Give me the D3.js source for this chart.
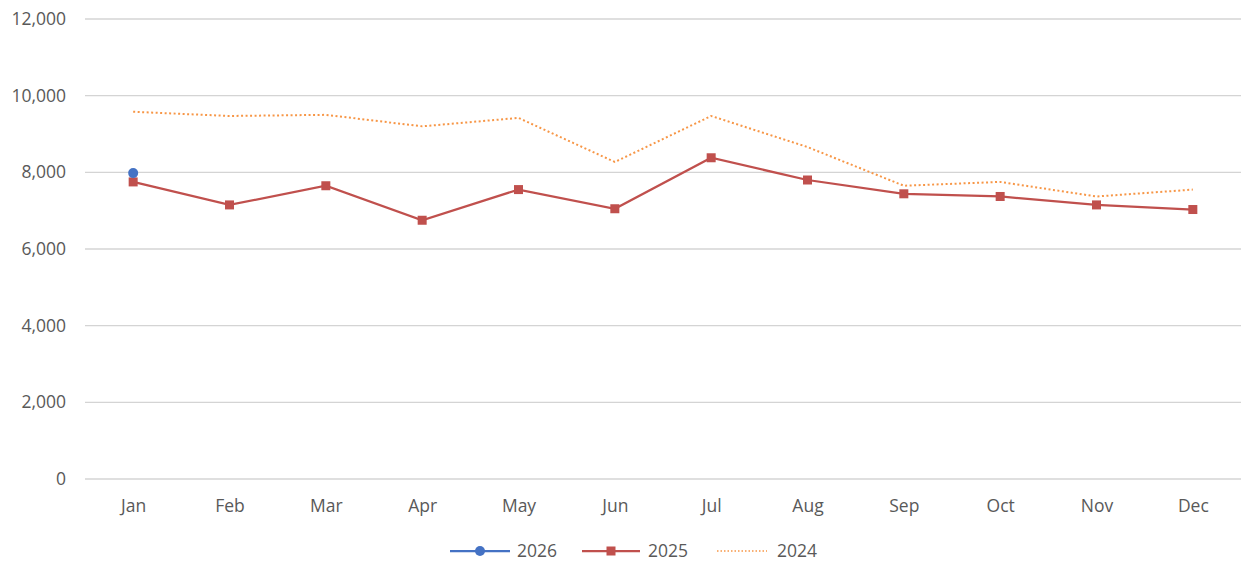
<!DOCTYPE html>
<html>
  <head>
    <meta charset="utf-8">
    <script src="https://d3js.org/d3.v7.min.js"></script>
    <style>
      body { margin: 0; background: #fff; }
      text { font-family: "Open Sans", sans-serif; fill: #595959; }
    </style>
  </head>
<body>
  <script type="text/javascript">
    "use strict";
    // chart data
    var months = ["Jan", "Feb", "Mar", "Apr", "May", "Jun",
                  "Jul", "Aug", "Sep", "Oct", "Nov", "Dec"];
    var values2026 = [7980];
    var values2025 = [7750, 7150, 7650, 6750, 7550, 7050,
                      8380, 7800, 7440, 7370, 7150, 7030];
    var values2024 = [9580, 9470, 9500, 9200, 9420, 8270,
                      9470, 8660, 7650, 7750, 7370, 7550];
    var yTicks = [0, 2000, 4000, 6000, 8000, 10000, 12000];

    function draw() {
      var width = 1260, height = 578,
          plotLeft = 85, plotRight = 1241, plotTop = 19, plotBottom = 479;

      var svg = d3.select("body").append("svg")
          .attr("width", width)
          .attr("height", height);

      var x = d3.scalePoint().domain(months).range([plotLeft, plotRight]).padding(0.5);
      var y = d3.scaleLinear().domain([0, 12000]).range([plotBottom, plotTop]);

      // gridlines
      svg.append("g").selectAll("line")
          .data(yTicks).enter().append("line")
          .attr("x1", plotLeft).attr("x2", plotRight)
          .attr("y1", d => y(d)).attr("y2", d => y(d))
          .attr("stroke", "#d4d4d4").attr("stroke-width", 1.4);

      // y axis labels
      var yAxis = d3.axisLeft(y).tickValues(yTicks)
          .tickFormat(d3.format(",")).tickSize(0).tickPadding(19);
      svg.append("g").attr("transform", "translate(" + plotLeft + ",0)")
          .call(yAxis)
          .call(g => g.select(".domain").remove())
          .selectAll("text").style("font-size", "17.5px")
          .attr("fill", "#595959");

      // x axis labels
      var xAxis = d3.axisBottom(x).tickSize(0).tickPadding(21);
      svg.append("g").attr("transform", "translate(0," + plotBottom + ")")
          .call(xAxis)
          .call(g => g.select(".domain").remove())
          .selectAll("text").style("font-size", "17.5px")
          .attr("fill", "#595959");

      var line = d3.line().x((d, i) => x(months[i])).y(d => y(d));

      // 2024 dotted
      svg.append("path").datum(values2024)
          .attr("d", line).attr("fill", "none")
          .attr("stroke", "#F79646").attr("stroke-width", 2)
          .attr("stroke-dasharray", "2,2.5");

      // 2025 with squares
      svg.append("path").datum(values2025)
          .attr("d", line).attr("fill", "none")
          .attr("stroke", "#C0504D").attr("stroke-width", 2.25);
      svg.append("g").selectAll("rect")
          .data(values2025).enter().append("rect")
          .attr("x", (d, i) => x(months[i]) - 4.5)
          .attr("y", d => y(d) - 4.5)
          .attr("width", 9).attr("height", 9)
          .attr("fill", "#C0504D");

      // 2026 with circles
      svg.append("path").datum(values2026)
          .attr("d", line).attr("fill", "none")
          .attr("stroke", "#4472C4").attr("stroke-width", 2.25);
      svg.append("g").selectAll("circle")
          .data(values2026).enter().append("circle")
          .attr("cx", (d, i) => x(months[i]))
          .attr("cy", d => y(d))
          .attr("r", 5)
          .attr("fill", "#4472C4");

      // legend
      var legend = [
        {label: "2026", color: "#4472C4", marker: "circle", x1: 450, x2: 510, tx: 517},
        {label: "2025", color: "#C0504D", marker: "square", x1: 582, x2: 640, tx: 648},
        {label: "2024", color: "#F79646", marker: "none", x1: 717, x2: 767, tx: 777}
      ];
      var ly = 551;
      var lg = svg.append("g");
      legend.forEach(function(l) {
        lg.append("line")
          .attr("x1", l.x1).attr("x2", l.x2).attr("y1", ly).attr("y2", ly)
          .attr("stroke", l.color)
          .attr("stroke-width", l.marker == "none" ? 1.5 : 2.25)
          .attr("stroke-dasharray", l.marker == "none" ? "1.5,2" : null);
        var mx = (l.x1 + l.x2) / 2;
        if (l.marker == "circle") {
          lg.append("circle").attr("cx", mx).attr("cy", ly).attr("r", 5).attr("fill", l.color);
        } else if (l.marker == "square") {
          lg.append("rect").attr("x", mx - 4.5).attr("y", ly - 4.5)
            .attr("width", 9).attr("height", 9).attr("fill", l.color);
        }
        lg.append("text").attr("x", l.tx).attr("y", ly).attr("dy", "0.35em")
          .style("font-size", "17.5px").text(l.label);
      });
    }

    draw();
  </script>
</body>
</html>
